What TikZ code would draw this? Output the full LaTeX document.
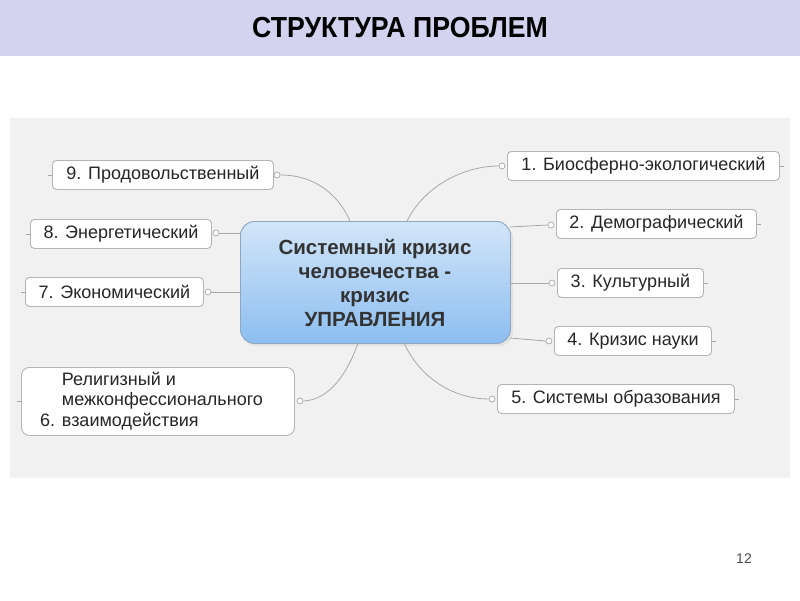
\documentclass[tikz,border=0pt]{standalone}
\usepackage{fontspec}
\setmainfont{Liberation Sans}
\usetikzlibrary{calc}
\definecolor{hdr}{HTML}{D3D3EF}
\definecolor{panel}{HTML}{F1F1F1}
\definecolor{lnk}{HTML}{A8A8A8}
\definecolor{bx}{HTML}{B4B4B4}
\definecolor{ctop}{HTML}{D2E5F8}
\definecolor{cbot}{HTML}{8CBEF0}
\definecolor{cbrd}{HTML}{8EA6C0}
\definecolor{ctxt}{HTML}{333333}
\begin{document}
\begin{tikzpicture}[x=1pt,y=-1pt,
  leaf/.style={draw=bx, fill=white, rounded corners=4pt, line width=0.9pt,
    font=\fontsize{18}{20.5}\selectfont, text=black!85, inner sep=0pt,
    anchor=north west, minimum height=29pt},
  bub/.style={circle, draw=lnk, fill=white, line width=0.7pt, inner sep=0pt, minimum size=6pt},
  link/.style={draw=lnk, line width=0.8pt},
  stub/.style={draw=lnk, line width=0.7pt}]
\useasboundingbox (0,0) rectangle (800,600);
\fill[white] (0,0) rectangle (800,600);
% header
\fill[hdr] (0,0) rectangle (800,56);
\node[font=\bfseries\fontsize{29}{32}\selectfont, xscale=0.92, text=black] (title) at (400,28) {СТРУКТУРА ПРОБЛЕМ};
% panel
\fill[panel] (10,118) rectangle (790,478);
% center
\fill[black, opacity=0.06, rounded corners=14pt] (242,224) rectangle (513,346);
\node[draw=cbrd, line width=0.9pt, rounded corners=14pt, top color=ctop, bottom color=cbot,
  minimum width=270pt, minimum height=122pt, anchor=north west, inner sep=0pt] (c) at (240,221) {};
\node[font=\bfseries\fontsize{20.5}{24}\selectfont, text=ctxt, align=center] (ct) at (375,283)
  {Системный кризис\\человечества -\\кризис\\УПРАВЛЕНИЯ};
% leaves
\node[leaf, minimum width=221pt] (n9) at (52,160) {9. Продовольственный};
\node[leaf, minimum width=181pt] (n8) at (30,219) {8. Энергетический};
\node[leaf, minimum width=178pt] (n7) at (25,277) {7. Экономический};
\node[leaf, minimum width=273pt, minimum height=68pt, rounded corners=8pt] (n6) at (21,367) {};
\node[font=\fontsize{18}{20.5}\selectfont, text=black!85, align=left, anchor=west, inner sep=0pt] (n6t) at (40,401)
  {\hphantom{6. }Религизный и\\\hphantom{6. }межконфессионального\\6. взаимодействия};
\node[leaf, minimum width=272pt] (n1) at (507,151) {1. Биосферно-экологический};
\node[leaf, minimum width=200pt] (n2) at (556,209) {2. Демографический};
\node[leaf, minimum width=146pt] (n3) at (557,268) {3. Культурный};
\node[leaf, minimum width=157pt] (n4) at (554,326) {4. Кризис науки};
\node[leaf, minimum width=237pt] (n5) at (497,384) {5. Системы образования};
% bubbles
\node[bub] (b9) at (277,175) {};
\node[bub] (b8) at (216,233) {};
\node[bub] (b7) at (208,292) {};
\node[bub] (b6) at (300,401) {};
\node[bub] (b1) at (502,166) {};
\node[bub] (b2) at (551,225) {};
\node[bub] (b3) at (552,283) {};
\node[bub] (b4) at (549,341) {};
\node[bub] (b5) at (492,399) {};
% anchor points on center box
\coordinate (c9) at (350,221);
\coordinate (c1) at (407,221);
\coordinate (c6) at (358,343);
\coordinate (c5) at (404,343);
\coordinate (c8) at (240,233);
\coordinate (c7) at (240,292);
\coordinate (c2) at (510,227);
\coordinate (c3) at (510,283);
\coordinate (c4) at (510,338);
% connectors
\draw[link] (b9.east) .. controls (318,175) and (340,198) .. (c9);
\draw[link] (b6.east) .. controls (330,400) and (348,372) .. (c6);
\draw[link] (c1) .. controls (425,185) and (465,166) .. (b1.west);
\draw[link] (c5) .. controls (422,382) and (458,399) .. (b5.west);
\draw[link] (b8.east) -- (c8);
\draw[link] (b7.east) -- (c7);
\draw[link] (c2) -- (b2.west);
\draw[link] (c3) -- (b3.west);
\draw[link] (c4) -- (b4.west);
% stubs
\draw[stub] (n9.west) -- ++(-4,0);
\draw[stub] (n8.west) -- ++(-4,0);
\draw[stub] (n7.west) -- ++(-4,0);
\draw[stub] (n6.west) -- ++(-4,0);
\draw[stub] (n1.east) -- ++(4,0);
\draw[stub] (n2.east) -- ++(4,0);
\draw[stub] (n3.east) -- ++(4,0);
\draw[stub] (n4.east) -- ++(4,0);
\draw[stub] (n5.east) -- ++(4,0);
% page number
\node[font=\fontsize{14}{16}\selectfont, text=black!70] (pg) at (744,559) {12};
\end{tikzpicture}
\end{document}
